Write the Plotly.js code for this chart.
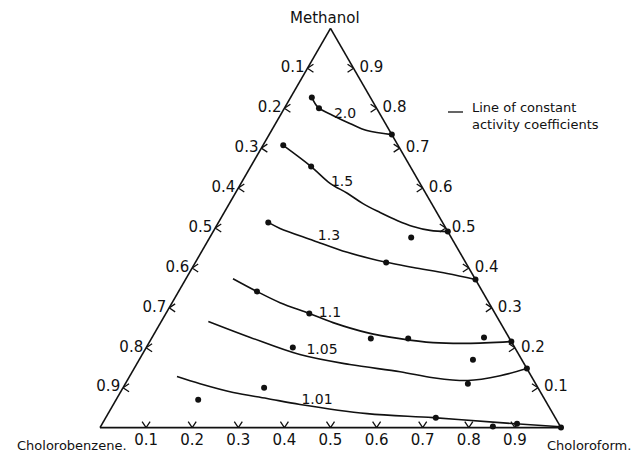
<!DOCTYPE html>
<html><head><meta charset="utf-8">
<script src="https://cdn.plot.ly/plotly-3.0.1.min.js"></script>
<style>html,body{margin:0;padding:0;background:#fff}#chart{width:634px;height:455px}</style>
</head><body><div id="chart"></div>
<script>
// Activity-coefficient levels (one line each)
const levels = ['2.0', '1.5', '1.3', '1.1', '1.05', '1.01'];

// Lines of constant activity coefficient: mole fractions along each line
// (Chlorobenzene = 1 - Methanol - Chloroform)
const lineMethanol = [
  [0.827, 0.802, 0.782, 0.762, 0.744, 0.734],
  [0.707, 0.654, 0.612, 0.587, 0.561, 0.539, 0.519, 0.504, 0.494, 0.491],
  [0.514, 0.499, 0.469, 0.439, 0.414, 0.401, 0.386, 0.371],
  [0.373, 0.341, 0.313, 0.286, 0.263, 0.238, 0.223, 0.213, 0.211, 0.2155],
  [0.266, 0.226, 0.183, 0.158, 0.140, 0.125, 0.118, 0.130, 0.148],
  [0.128, 0.110, 0.088, 0.073, 0.058, 0.035, 0.025, 0.0125, 0.002]
];
const lineChloroform = [
  [0.046, 0.072, 0.114, 0.161, 0.207, 0.266],
  [0.044, 0.131, 0.193, 0.243, 0.290, 0.338, 0.385, 0.427, 0.469, 0.509],
  [0.108, 0.141, 0.228, 0.317, 0.414, 0.479, 0.560, 0.629],
  [0.102, 0.170, 0.234, 0.311, 0.374, 0.460, 0.539, 0.616, 0.691, 0.7845],
  [0.102, 0.213, 0.342, 0.463, 0.581, 0.660, 0.739, 0.803, 0.852],
  [0.103, 0.162, 0.245, 0.326, 0.405, 0.562, 0.710, 0.861, 0.998]
];

// Experimental points
const dotMethanol = [
  0.827, 0.800, 0.734,
  0.707, 0.654, 0.491, 0.476,
  0.514, 0.4135, 0.371,
  0.341, 0.286, 0.223, 0.223, 0.226, 0.2155,
  0.2005, 0.110, 0.170, 0.148,
  0.070, 0.100, 0.025, 0.0025, 0.010, 0.0
];
const dotChloroform = [
  0.046, 0.075, 0.266,
  0.044, 0.131, 0.509, 0.437,
  0.108, 0.414, 0.629,
  0.170, 0.311, 0.476, 0.557, 0.720, 0.7845,
  0.318, 0.743, 0.724, 0.852,
  0.178, 0.306, 0.716, 0.851, 0.8996, 1.0
];

// Axis tick values and labels
const tickValues = [0.1, 0.2, 0.3, 0.4, 0.5, 0.6, 0.7, 0.8, 0.9];
const tickLabels = ['0.1', '0.2', '0.3', '0.4', '0.5', '0.6', '0.7', '0.8', '0.9'];

// Where the level labels sit (methanol, chloroform)
const labelPosMethanol = [0.7845, 0.614, 0.4787, 0.2857, 0.193, 0.0677];
const labelPosChloroform = [0.1393, 0.218, 0.2574, 0.356, 0.3851, 0.4369];

const INK = '#111';
const FONT = 'DejaVu Sans';
const S3 = Math.sqrt(3);
const SIDE = 461; // px length of triangle side (for tick glyph sizes)
const cart = (a, c) => [c + a / 2, a * S3 / 2];
const tern = (x, y) => {
  let a = 2 * y / S3, c = x - y / S3, b = 1 - a - c;
  return [Math.max(0, a), Math.max(0, b), Math.max(0, c)];
};

const traces = [];

// lines
lineMethanol.forEach((am, i) => {
  const cc = lineChloroform[i];
  traces.push({
    type: 'scatterternary', mode: 'lines',
    a: am, c: cc, b: am.map((v, k) => 1 - v - cc[k]),
    line: {color: INK, width: 1.6, shape: 'spline', smoothing: 1},
    cliponaxis: false, hoverinfo: 'skip'
  });
});

// points
traces.push({
  type: 'scatterternary', mode: 'markers',
  a: dotMethanol, c: dotChloroform, b: dotMethanol.map((v, k) => 1 - v - dotChloroform[k]),
  marker: {color: INK, size: 6},
  cliponaxis: false, hoverinfo: 'skip'
});

// level labels
traces.push({
  type: 'scatterternary', mode: 'text',
  a: labelPosMethanol, c: labelPosChloroform,
  b: labelPosMethanol.map((v, k) => 1 - v - labelPosChloroform[k]),
  text: levels, textposition: 'middle center',
  textfont: {family: FONT, size: 14, color: INK},
  cliponaxis: false, hoverinfo: 'skip'
});

// chevron tick glyphs along each edge
const ta = [], tb = [], tc = [];
const push = (p) => { if (p === null) { ta.push(null); tb.push(null); tc.push(null); } else { ta.push(p[0]); tb.push(p[1]); tc.push(p[2]); } };
const dx = 6 / SIDE, dy = 4 / SIDE;
tickValues.forEach(t => {
  // left edge (chlorobenzene = t)
  let [x0, y0] = cart(1 - t, 0);
  push(tern(x0 + dx, y0 + dy)); push(tern(x0, y0)); push(tern(x0 + dx, y0 - dy)); push(null);
  // right edge (methanol = t)
  [x0, y0] = cart(t, 1 - t);
  push(tern(x0 - dx, y0 + dy)); push(tern(x0, y0)); push(tern(x0 - dx, y0 - dy)); push(null);
  // bottom edge (chloroform = t)
  [x0, y0] = cart(0, t);
  push(tern(x0 - dy, y0 + dx)); push(tern(x0, y0)); push(tern(x0 + dy, y0 + dx)); push(null);
});
traces.push({
  type: 'scatterternary', mode: 'lines', a: ta, b: tb, c: tc,
  connectgaps: false, line: {color: INK, width: 1.3},
  cliponaxis: false, hoverinfo: 'skip'
});

// tick labels (invisible markers only set the text stand-off)
const tf = {family: FONT, size: 15, color: INK};
const ghost = (s) => ({size: s, color: 'rgba(0,0,0,0)', line: {width: 0}});
traces.push({ // left edge: chlorobenzene
  type: 'scatterternary', mode: 'markers+text',
  a: tickValues.map(t => 1 - t), b: tickValues, c: tickValues.map(() => 0),
  text: tickLabels, textposition: 'middle left', textfont: tf, marker: ghost(3),
  cliponaxis: false, hoverinfo: 'skip'
});
traces.push({ // right edge: methanol
  type: 'scatterternary', mode: 'markers+text',
  a: tickValues, b: tickValues.map(() => 0), c: tickValues.map(t => 1 - t),
  text: tickLabels, textposition: 'middle right', textfont: tf, marker: ghost(8),
  cliponaxis: false, hoverinfo: 'skip'
});
traces.push({ // bottom edge: chloroform
  type: 'scatterternary', mode: 'markers+text',
  a: tickValues.map(() => 0), b: tickValues.map(t => 1 - t), c: tickValues,
  text: tickLabels, textposition: 'bottom center', textfont: tf, marker: ghost(8),
  cliponaxis: false, hoverinfo: 'skip'
});

const axisStyle = {
  showgrid: false, showticklabels: false, ticks: '', showline: true,
  linecolor: INK, linewidth: 1.6, title: {text: ''}, min: 0
};

const W = 634, H = 455;
const ann = (text, x, y, size) => ({text, xref: 'paper', yref: 'paper', x: x / W, y: 1 - y / H,
  xanchor: 'center', yanchor: 'middle', showarrow: false, font: {family: FONT, size, color: INK}});
const layout = {
  width: W, height: H,
  margin: {l: 0, r: 0, t: 0, b: 0},
  paper_bgcolor: '#fff',
  showlegend: false,
  font: {family: FONT, color: INK},
  ternary: {
    sum: 1,
    domain: {x: [100 / W, 561 / W], y: [0.0589, 0.9389]},
    bgcolor: 'rgba(0,0,0,0)',
    aaxis: axisStyle, baxis: axisStyle, caxis: axisStyle
  },
  annotations: [
    ann('Methanol', 325, 18, 15),
    ann('Cholorobenzene.', 72, 445, 13),
    ann('Choloroform.', 589, 445, 13),
    {text: 'Line of constant<br>activity coefficients', xref: 'paper', yref: 'paper',
     x: 470 / W, y: 1 - 98 / H, xanchor: 'left', yanchor: 'top', align: 'left',
     showarrow: false, font: {family: FONT, size: 13, color: INK}}
  ],
  shapes: [
    {type: 'line', xref: 'paper', yref: 'paper', x0: 448 / W, x1: 463 / W,
     y0: 1 - 112 / H, y1: 1 - 112 / H, line: {color: INK, width: 1.3}}
  ]
};

Plotly.newPlot('chart', traces, layout, {displayModeBar: false, staticPlot: true});
</script>
</body></html>
